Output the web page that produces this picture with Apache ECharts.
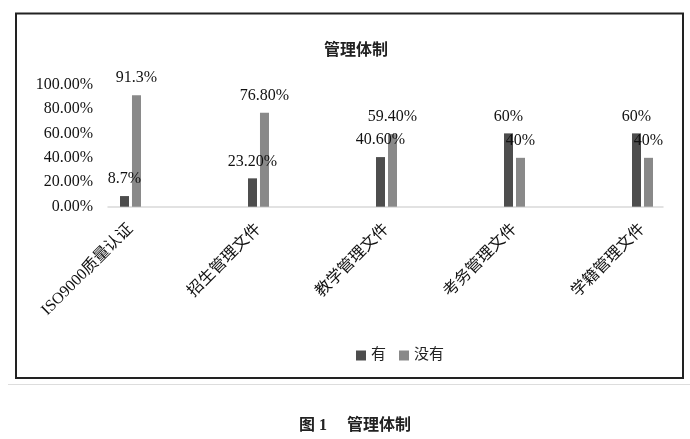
<!DOCTYPE html>
<html>
<head>
<meta charset="UTF-8"/>
<title>管理体制</title>
<script src="https://cdn.jsdelivr.net/npm/echarts@6/dist/echarts.min.js"></script>
<style>
html, body { margin: 0; padding: 0; background: #fff; }
#chart { width: 690px; height: 439px; }
</style>
</head>
<body>
<div id="chart"></div>
<script type="text/javascript">
// 数据
var categories = ['ISO9000质量认证', '招生管理文件', '教学管理文件', '考务管理文件', '学籍管理文件'];
var yesValues = [8.7, 23.2, 40.6, 60, 60];
var noValues = [91.3, 76.8, 59.4, 40, 40];
var yesLabels = ['8.7%', '23.20%', '40.60%', '60%', '60%'];
var noLabels = ['91.3%', '76.80%', '59.40%', '40%', '40%'];
var seriesNames = ['有', '没有'];

var font = "'Liberation Serif', 'Noto Sans CJK SC', serif";
var gridTop = 84.5, gridBottom = 232.3;

var myChart = echarts.init(document.getElementById('chart'));
var option = {
    animation: false,
    backgroundColor: '#fff',
    title: [{
        text: '管理体制',
        left: 351,
        top: 38,
        textAlign: 'center',
        textStyle: { fontFamily: font, fontSize: 16, fontWeight: 'bold', color: '#222' }
    }, {
        text: '图 1　 管理体制',
        left: 350,
        top: 413,
        textAlign: 'center',
        textStyle: { fontFamily: font, fontSize: 16, fontWeight: 'bold', color: '#222' }
    }],
    legend: {
        data: seriesNames,
        left: 351,
        top: 343,
        textAlign: 'center',
        icon: 'rect',
        itemWidth: 10,
        itemHeight: 10,
        itemGap: 13,
        textStyle: { fontFamily: font, fontSize: 15, color: '#222' }
    },
    graphic: [{
        type: 'rect',
        shape: { x: 16, y: 13.5, width: 667, height: 364.5 },
        style: { fill: 'none', stroke: '#222', lineWidth: 2 },
        silent: true
    }, {
        type: 'line',
        shape: { x1: 8, y1: 384.5, x2: 690, y2: 384.5 },
        style: { stroke: '#ddd', lineWidth: 1 },
        silent: true
    }],
    grid: [
        // 坐标轴
        { left: 108, right: 27, top: gridTop, bottom: gridBottom },
        // 柱子
        { left: 130.5, right: 47.5, top: gridTop, bottom: gridBottom }
    ],
    xAxis: [{
        gridIndex: 0,
        type: 'category',
        data: categories,
        axisLine: { lineStyle: { color: '#d9d9d9', width: 1.5 } },
        axisTick: { show: false },
        axisLabel: { show: false }
    }, {
        gridIndex: 1,
        type: 'category',
        data: categories,
        boundaryGap: false,
        axisLine: { show: false },
        axisTick: { show: false },
        axisLabel: {
            rotate: 45,
            margin: 20,
            interval: 0,
            fontFamily: font,
            fontSize: 16,
            color: '#111'
        }
    }],
    yAxis: [{
        gridIndex: 0,
        type: 'value',
        min: 0,
        max: 100,
        interval: 20,
        axisLine: { show: false },
        axisTick: { show: false },
        splitLine: { show: false },
        axisLabel: {
            margin: 15,
            fontFamily: font,
            fontSize: 16,
            color: '#111',
            formatter: function (v) { return v.toFixed(2) + '%'; }
        }
    }, {
        gridIndex: 1,
        type: 'value',
        min: 0,
        max: 100,
        show: false
    }],
    series: [{
        name: seriesNames[0],
        type: 'bar',
        xAxisIndex: 1,
        yAxisIndex: 1,
        barWidth: 9,
        barGap: '33%',
        itemStyle: { color: '#4d4d4d' },
        label: {
            show: true,
            position: 'top',
            distance: 9,
            fontFamily: font,
            fontSize: 16,
            color: '#111',
            formatter: function (p) { return yesLabels[p.dataIndex]; }
        },
        data: yesValues
    }, {
        name: seriesNames[1],
        type: 'bar',
        xAxisIndex: 1,
        yAxisIndex: 1,
        barWidth: 9,
        barGap: '33%',
        itemStyle: { color: '#898989' },
        label: {
            show: true,
            position: 'top',
            distance: 9,
            fontFamily: font,
            fontSize: 16,
            color: '#111',
            formatter: function (p) { return noLabels[p.dataIndex]; }
        },
        data: noValues
    }]
};
myChart.setOption(option, true);
</script>
</body>
</html>
